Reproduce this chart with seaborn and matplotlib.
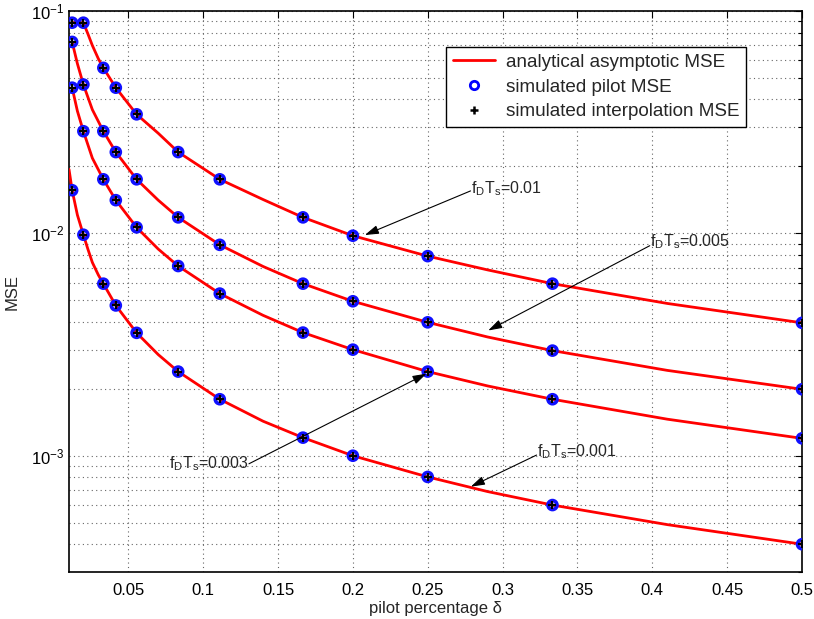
import numpy as np
import pandas as pd
import matplotlib
matplotlib.use("Agg")
import matplotlib.pyplot as plt
import seaborn as sns
from matplotlib.lines import Line2D
from matplotlib.ticker import FixedLocator, FixedFormatter, LogLocator, NullFormatter

# ---------------- data ----------------
curve_names = ["0.01", "0.005", "0.003", "0.001"]

# simulated points (pilot percentage delta)
delta_pts = [1/80, 1/50, 1/30, 1/24, 1/18, 1/12, 1/9, 1/6, 1/5, 1/4, 1/3, 1/2]
mse_pts_001 = [0.0886, 0.0886, 0.0555, 0.0452, 0.0343, 0.0232, 0.0175, 0.0118, 0.00976, 0.0079, 0.00594, 0.00396]
mse_pts_0005 = [0.0726, 0.0467, 0.0288, 0.0232, 0.0175, 0.0118, 0.00888, 0.00594, 0.00495, 0.00398, 0.00297, 0.00199]
mse_pts_0003 = [0.0452, 0.0288, 0.0175, 0.0141, 0.01064, 0.00713, 0.00536, 0.00358, 0.0030, 0.00239, 0.001795, 0.001197]
mse_pts_0001 = [0.01563, 0.00986, 0.00594, 0.00474, 0.00357, 0.00239, 0.001795, 0.001206, 0.001, 0.000803, 0.0006, 0.0004]

# analytical asymptotic MSE curves (samples)
line_x_001 = [1/80, 1/50, 0.023, 0.026, 0.03, 1/30, 1/24, 1/18, 0.07, 1/12, 1/9, 0.14, 1/6, 1/5, 1/4, 0.29, 1/3, 0.41, 1/2]
line_y_001 = [0.0886, 0.0886, 0.079, 0.070, 0.061, 0.0555, 0.0452, 0.0343, 0.0282, 0.0232, 0.0175, 0.0142, 0.0118, 0.00976, 0.0079, 0.00685, 0.00594, 0.00484, 0.00396]
line_x_0005 = [1/80, 0.016, 1/50, 0.026, 1/30, 1/24, 1/18, 0.07, 1/12, 1/9, 0.14, 1/6, 1/5, 1/4, 0.29, 1/3, 0.41, 1/2]
line_y_0005 = [0.0726, 0.058, 0.0467, 0.036, 0.0288, 0.0232, 0.0175, 0.0141, 0.0118, 0.00888, 0.0071, 0.00594, 0.00495, 0.00398, 0.00342, 0.00297, 0.00242, 0.00199]
line_x_0003 = [1/80, 0.016, 1/50, 0.026, 1/30, 1/24, 1/18, 0.07, 1/12, 1/9, 0.14, 1/6, 1/5, 1/4, 0.29, 1/3, 0.41, 1/2]
line_y_0003 = [0.0452, 0.0355, 0.0288, 0.0218, 0.0175, 0.0141, 0.01064, 0.0085, 0.00713, 0.00536, 0.00428, 0.00358, 0.0030, 0.00239, 0.00206, 0.001795, 0.00146, 0.001197]
line_x_0001 = [0.0104, 1/80, 0.016, 1/50, 0.023, 0.026, 0.03, 1/30, 1/24, 1/18, 0.07, 1/12, 1/9, 0.14, 1/6, 1/5, 1/4, 0.29, 1/3, 0.41, 1/2]
line_y_0001 = [0.0194, 0.01563, 0.0121, 0.00986, 0.0085, 0.0074, 0.0065, 0.00594, 0.00474, 0.00357, 0.00285, 0.00239, 0.001795, 0.00143, 0.001206, 0.001, 0.000803, 0.00069, 0.0006, 0.00049, 0.0004]

xtick_values = [0.05, 0.1, 0.15, 0.2, 0.25, 0.3, 0.35, 0.4, 0.45, 0.5]
xtick_labels = ["0.05", "0.1", "0.15", "0.2", "0.25", "0.3", "0.35", "0.4", "0.45", "0.5"]

legend_labels = ["analytical asymptotic MSE", "simulated pilot MSE", "simulated interpolation MSE"]

# annotations: label value, text position, arrow tail, arrow head, alignment
annot_text = ["0.01", "0.005", "0.003", "0.001"]
annot_text_xy = [(0.2789, 0.01596), (0.3987, 0.00914), (0.1306, 0.000924), (0.3227, 0.001045)]
annot_tail = [(0.2786, 0.01552), (0.3983, 0.0088), (0.1306, 0.00092), (0.3227, 0.001007)]
annot_head = [(0.208, 0.00983), (0.2904, 0.003658), (0.2492, 0.00234), (0.2788, 0.000726)]
annot_ha = ["left", "left", "right", "left"]

# ---------------- build tables ----------------
pts_df = pd.concat([
    pd.DataFrame({"delta": delta_pts, "mse": m, "curve": n})
    for n, m in zip(curve_names, [mse_pts_001, mse_pts_0005, mse_pts_0003, mse_pts_0001])
], ignore_index=True)

line_df = pd.concat([
    pd.DataFrame({"delta": lx, "mse": ly, "curve": n})
    for n, lx, ly in zip(curve_names,
                         [line_x_001, line_x_0005, line_x_0003, line_x_0001],
                         [line_y_001, line_y_0005, line_y_0003, line_y_0001])
], ignore_index=True)

# ---------------- style ----------------
sns.set_theme(style="white")
plt.rcParams["font.family"] = ["Liberation Sans", "DejaVu Sans"]
plt.rcParams["mathtext.fontset"] = "custom"
plt.rcParams["mathtext.rm"] = "Liberation Sans"
plt.rcParams["mathtext.it"] = "Liberation Sans:italic"

fig = plt.figure(figsize=(8.14, 6.19), dpi=100)
ax = fig.add_axes([69/814, 1 - 572/619, (802 - 69)/814, (572 - 11)/619])

sns.lineplot(data=line_df, x="delta", y="mse", units="curve", estimator=None,
             sort=False, color="#ff0000", linewidth=2.0, ax=ax, legend=False, zorder=3)
sns.scatterplot(data=pts_df, x="delta", y="mse", marker="o", s=42,
                facecolor="none", edgecolor="#1010ff", linewidth=2.6,
                ax=ax, legend=False, zorder=4)
sns.scatterplot(data=pts_df, x="delta", y="mse", marker="+", s=38,
                color="black", linewidth=1.6, ax=ax, legend=False, zorder=5)

ax.set_yscale("log")
ax.set_xlim(0.0104, 0.5)
ax.set_ylim(3e-4, 1e-1)

ax.xaxis.set_major_locator(FixedLocator(xtick_values))
ax.xaxis.set_major_formatter(FixedFormatter(xtick_labels))
ax.yaxis.set_major_locator(LogLocator(base=10, numticks=10))
ax.yaxis.set_minor_locator(LogLocator(base=10, subs=np.arange(2, 10), numticks=20))
ax.yaxis.set_minor_formatter(NullFormatter())

ax.grid(True, which="major", axis="both", linestyle=(0, (1, 3)), color="0.4", linewidth=0.8)
ax.grid(True, which="minor", axis="y", linestyle=(0, (1, 3)), color="0.4", linewidth=0.8)

ax.tick_params(axis="both", which="both", direction="in", top=True, right=True,
               labelsize=12, colors="black")
ax.tick_params(which="major", length=5, width=0.8)
ax.tick_params(which="minor", length=3, width=0.8)
ax.tick_params(axis="x", pad=8)
for sp in ax.spines.values():
    sp.set_color("black")
    sp.set_linewidth(1.2)

ax.set_xlabel("pilot percentage \u03b4", fontsize=12, labelpad=2)
ax.set_ylabel("MSE", fontsize=12, labelpad=8)

# legend
handles = [
    Line2D([], [], color="#ff0000", linewidth=2.0),
    Line2D([], [], linestyle="none", marker="o", markersize=6, markerfacecolor="none",
           markeredgecolor="#0000ff", markeredgewidth=2.0),
    Line2D([], [], linestyle="none", marker="+", markersize=6, color="black", markeredgewidth=1.8),
]
leg = ax.legend(handles, legend_labels, loc="upper right",
                bbox_to_anchor=((746 - 69)/(802 - 69), 1 - (47 - 11)/(572 - 11)),
                bbox_transform=ax.transAxes, prop={"size": 13.6}, frameon=True, fancybox=False,
                framealpha=1, edgecolor="black", borderpad=0.35, labelspacing=0.4,
                handlelength=2.2, handletextpad=0.6, borderaxespad=0)
leg.get_frame().set_linewidth(1.0)

# annotations
for t, txy, tail, head, ha in zip(annot_text, annot_text_xy, annot_tail, annot_head, annot_ha):
    ax.text(txy[0], txy[1], r"$\mathregular{f_DT_s}$=" + t, ha=ha, va="center",
            fontsize=11.5, zorder=6)
    ax.annotate("", xy=head, xytext=tail,
                arrowprops=dict(arrowstyle="-|>,head_length=0.7,head_width=0.22",
                                color="black", lw=0.8, shrinkA=0, shrinkB=0),
                zorder=6)

fig.savefig("out.png", dpi=100)
